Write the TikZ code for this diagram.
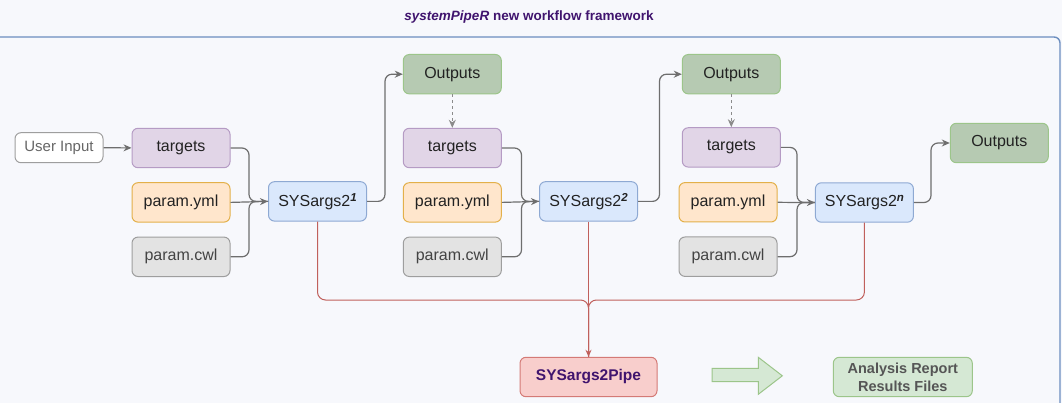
\documentclass[tikz,border=0pt]{standalone}
\usepackage{fontspec}
\setmainfont{Liberation Sans}
\usepackage{xcolor}
\usepackage{tikz}
\usetikzlibrary{arrows.meta,positioning}
\definecolor{bgpage}{HTML}{F7F8FC}
\definecolor{laneblue}{HTML}{6C8EBF}
\definecolor{titlepurple}{HTML}{40146E}
\definecolor{tgtfill}{HTML}{E1D5E7}
\definecolor{tgtdraw}{HTML}{B59BC4}
\definecolor{ymlfill}{HTML}{FFE6CC}
\definecolor{ymldraw}{HTML}{E3B04A}
\definecolor{cwlfill}{HTML}{E3E3E3}
\definecolor{cwldraw}{HTML}{9E9E9E}
\definecolor{sysfill}{HTML}{DAE8FC}
\definecolor{sysdraw}{HTML}{8EA9D3}
\definecolor{outfill}{HTML}{B6CAB2}
\definecolor{outdraw}{HTML}{9CC58A}
\definecolor{pipefill}{HTML}{F8CECC}
\definecolor{pipedraw}{HTML}{D47A76}
\definecolor{repfill}{HTML}{D5E8D4}
\definecolor{linkgray}{HTML}{6E6E6E}
\definecolor{boxtext}{HTML}{222222}
\definecolor{softtext}{HTML}{555555}
\definecolor{redlink}{HTML}{C0605C}
\newcommand{\stepsup}[1]{\raisebox{0.55ex}{\fontsize{11.5}{12}\selectfont\bfseries\itshape #1}}

\begin{document}
\begin{tikzpicture}[x=1pt,y=-1pt,
  box/.style={rounded corners=6pt, line width=1pt, minimum width=98pt, minimum height=39.4pt,
    inner sep=2pt, font=\fontsize{16}{18}\selectfont, text=boxtext},
  tgtbox/.style={box, fill=tgtfill, draw=tgtdraw},
  ymlbox/.style={box, fill=ymlfill, draw=ymldraw},
  cwlbox/.style={box, fill=cwlfill, draw=cwldraw, text=boxtext!85},
  sysbox/.style={box, fill=sysfill, draw=sysdraw},
  outbox/.style={box, fill=outfill, draw=outdraw},
  link/.style={draw=linkgray, line width=1.2pt, rounded corners=7pt},
  linkarr/.style={link, -{Stealth[length=8pt,width=7pt]}},
  pipelink/.style={draw=redlink, line width=1pt, rounded corners=8pt},
]
% page and lane
\fill[bgpage] (0,0) rectangle (1062,403);
\useasboundingbox (0,0) rectangle (1062,403);
\draw[laneblue, line width=1.4pt, rounded corners=6pt] (-10,37) -- (1060,37) -- (1060,430);
\node[font=\bfseries\fontsize{13.5}{16}\selectfont, text=titlepurple] (title) at (529,17)
  {\textit{systemPipeR} new workflow framework};

% first step
\node[box, fill=white, draw=cwldraw, minimum width=88pt, minimum height=30pt,
  font=\fontsize{15}{17}\selectfont, text=softtext!90] (usr) at (59,147.7) {User Input};
\node[tgtbox] (tgt1) at (181,148) {targets};
\node[ymlbox, below=14pt of tgt1] (yml1) {param.yml};
\node[cwlbox, below=14pt of yml1] (cwl1) {param.cwl};
\node[sysbox] (sys1) at (317.5,201.4) {SYSargs2\stepsup{1}};

% second step
\node[outbox] (out1) at (452.3,74.2) {Outputs};
\node[tgtbox] (tgt2) at (452.3,148) {targets};
\node[ymlbox, below=14pt of tgt2] (yml2) {param.yml};
\node[cwlbox, below=14pt of yml2] (cwl2) {param.cwl};
\node[sysbox] (sys2) at (588.5,201.4) {SYSargs2\stepsup{2}};

% n-th step
\node[outbox] (out2) at (731.3,74.2) {Outputs};
\node[tgtbox] (tgt3) at (731.3,147.4) {targets};
\node[ymlbox] (yml3) at (728,202.3) {param.yml};
\node[cwlbox, below=14pt of yml3] (cwl3) {param.cwl};
\node[sysbox] (sysn) at (864.4,202.5) {SYSargs2\stepsup{n}};
\node[outbox] (out3) at (999.3,143) {Outputs};

% pipe and report
\node[box, fill=pipefill, draw=pipedraw, minimum width=137pt, text=titlepurple,
  font=\bfseries\fontsize{15.5}{18}\selectfont] (pipe) at (588.5,377) {SYSargs2Pipe};
\node[box, fill=repfill, draw=outdraw, minimum width=139pt, align=center, text=softtext,
  font=\bfseries\fontsize{14.5}{18}\selectfont] (rep) at (902.8,377) {Analysis Report\\Results Files};
\filldraw[fill=repfill, draw=outdraw, line width=1pt] (712,368.3) -- (758.3,368.3) -- (758.3,357.3)
  -- (782.3,375.8) -- (758.3,394.3) -- (758.3,381.7) -- (712,381.7) -- cycle;

% links
\coordinate (m1) at (249,201.4);
\coordinate (m2) at (521.5,201.4);
\coordinate (m3) at (797,202.5);
\coordinate (u1) at (385,74.2);
\coordinate (u2) at (659.5,74.2);
\coordinate (u3) at (931,143);
\coordinate (hub) at (588.5,300);

\draw[linkarr] (usr) -- (tgt1);
\draw[link] (tgt1.east) -| (m1) -- (sys1.west);
\draw[link] (cwl1.east) -| (m1) -- (sys1.west);
\draw[linkarr] (yml1.east) -- (sys1.west);
\draw[linkarr] (sys1.east) -| (u1) -- (out1.west);
\draw[linkarr, line width=1pt, draw=linkgray!80, dash pattern=on 3pt off 3pt] (out1) -- (tgt2);

\draw[link] (tgt2.east) -| (m2) -- (sys2.west);
\draw[link] (cwl2.east) -| (m2) -- (sys2.west);
\draw[linkarr] (yml2.east) -- (sys2.west);
\draw[linkarr] (sys2.east) -| (u2) -- (out2.west);
\draw[linkarr, line width=1pt, draw=linkgray!80, dash pattern=on 3pt off 3pt] (out2) -- (tgt3);

\draw[link] (tgt3.east) -| (m3) -- (sysn.west);
\draw[link] (cwl3.east) -| (m3) -- (sysn.west);
\draw[linkarr] (yml3.east) -- (m3) -- (sysn.west);
\draw[linkarr] (sysn.east) -| (u3) -- (out3.west);

\draw[pipelink] (sys1.south) |- (hub) -- (pipe.north);
\draw[pipelink] (sysn.south) |- (hub) -- (pipe.north);
\draw[pipelink, -{Stealth[length=7pt,width=6pt]}] (sys2.south) -- (pipe.north);
\end{tikzpicture}
\end{document}
